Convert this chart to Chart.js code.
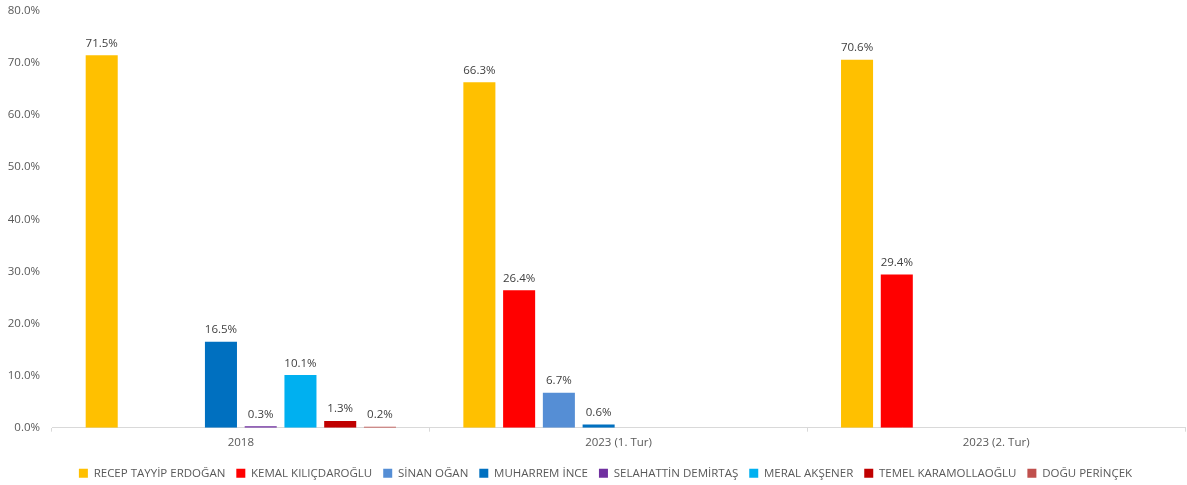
<!DOCTYPE html>
<html>
<head>
<meta charset="utf-8">
<script src="https://cdn.jsdelivr.net/npm/chart.js@4"></script>
<style>
    body { margin: 0; background: #fff; }
    #wrap { width: 1187px; height: 485px; }
</style>
</head>
<body>
<div id="wrap"><canvas id="chart" width="1187" height="485"></canvas></div>
<script>
// Categories and series
const categories = ['2018', '2023 (1. Tur)', '2023 (2. Tur)'];
const candidates = ['RECEP TAYYİP ERDOĞAN', 'KEMAL KILIÇDAROĞLU', 'SİNAN OĞAN', 'MUHARREM İNCE',
    'SELAHATTİN DEMİRTAŞ', 'MERAL AKŞENER', 'TEMEL KARAMOLLAOĞLU', 'DOĞU PERİNÇEK'];
const erdogan = [71.5, 66.3, 70.6];
const kilicdaroglu = [null, 26.4, 29.4];
const ogan = [null, 6.7, null];
const ince = [16.5, 0.6, null];
const demirtas = [0.3, null, null];
const aksener = [10.1, null, null];
const karamollaoglu = [1.3, null, null];
const perincek = [0.2, null, null];
const yTicks = [0, 10, 20, 30, 40, 50, 60, 70, 80];

const seriesValues = [erdogan, kilicdaroglu, ogan, ince, demirtas, aksener, karamollaoglu, perincek];
const colors = ['#FFC000', '#FF0000', '#558ED5', '#0070C0', '#7030A0', '#00B0F0', '#C00000', '#C0504D'];

const FONT = '"Open Sans", "Noto Sans", sans-serif';

// Draw value labels above the bars
const valueLabels = {
    id: 'valueLabels',
    afterDatasetsDraw(chart) {
        const ctx = chart.ctx;
        ctx.save();
        ctx.font = '11.5px ' + FONT;
        ctx.fillStyle = '#404040';
        ctx.textAlign = 'center';
        ctx.textBaseline = 'bottom';
        chart.data.datasets.forEach((ds, i) => {
            const meta = chart.getDatasetMeta(i);
            meta.data.forEach((bar, j) => {
                const v = ds.data[j];
                if (v === null || v === undefined) return;
                ctx.fillText(v.toFixed(1) + '%', bar.x, bar.y - 6);
            });
        });
        ctx.restore();
    }
};

// Nudge the legend a bit to the right, like the original
const legendShift = {
    id: 'legendShift',
    afterLayout(chart) {
        if (!chart.legend) return;
        chart.legend.left += 13;
        chart.legend.right += 13;
    }
};

new Chart(document.getElementById('chart').getContext('2d'), {
    type: 'bar',
    data: {
        labels: categories,
        datasets: candidates.map((name, i) => ({
            label: name,
            data: seriesValues[i],
            backgroundColor: colors[i],
            borderWidth: 0,
            categoryPercentage: 0.842,
            barPercentage: 0.806
        }))
    },
    options: {
        responsive: false,
        animation: false,
        layout: { padding: { top: -2, right: 2, left: 0, bottom: -4 } },
        scales: {
            y: {
                min: 0,
                max: 80,
                afterBuildTicks: axis => { axis.ticks = yTicks.map(v => ({ value: v })); },
                afterFit: axis => { axis.width = 52; },
                grid: { display: false },
                border: { display: false },
                ticks: {
                    color: '#595959',
                    font: { family: FONT, size: 11.5 },
                    padding: 4,
                    callback: v => v.toFixed(1) + '%'
                }
            },
            x: {
                afterFit: axis => { axis.height += 3; },
                grid: { display: true, drawOnChartArea: false, color: '#D9D9D9', tickLength: 4, offset: true },
                border: { display: true, color: '#D9D9D9' },
                ticks: {
                    color: '#595959',
                    font: { family: FONT, size: 11.5 },
                    padding: 4
                }
            }
        },
        plugins: {
            legend: {
                position: 'bottom',
                labels: {
                    color: '#595959',
                    font: { family: FONT, size: 11.5 },
                    boxWidth: 9,
                    boxHeight: 9,
                    padding: 11
                }
            },
            tooltip: { enabled: false }
        }
    },
    plugins: [valueLabels, legendShift]
});
</script>
</body>
</html>
